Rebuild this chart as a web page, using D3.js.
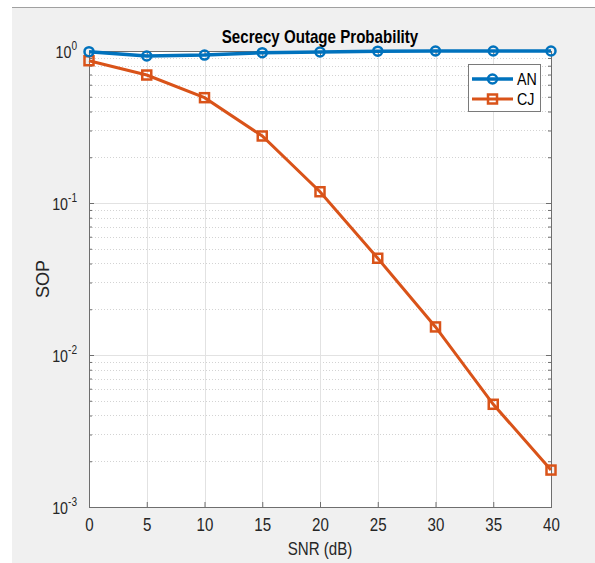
<!DOCTYPE html>
<html>
<head>
<meta charset="utf-8">
<script src="https://cdn.jsdelivr.net/npm/d3@7"></script>
<style>
  body { margin: 0; background: #fff; }
  text { font-family: "Liberation Sans", Arial, sans-serif; }
</style>
</head>
<body>
<div class="canvas"></div>
<script>
// data
const snr = [0, 5, 10, 15, 20, 25, 30, 35, 40];
const sopAN = [0.99, 0.927, 0.94, 0.975, 0.985, 0.998, 1.0, 1.0, 1.0];
const sopCJ = [0.863, 0.695, 0.493, 0.276, 0.1186, 0.0433, 0.0153, 0.00474, 0.00175];
const xTicks = [0, 5, 10, 15, 20, 25, 30, 35, 40];
const yExponents = [0, -1, -2, -3];
const seriesNames = ['AN', 'CJ'];

const width = 595, height = 563;
const narrow = 0.84; // matlab text looks condensed

const svg = d3.select('.canvas')
    .append('svg')
    .attr('width', width)
    .attr('height', height);

// put text at (x, y) squeezed horizontally
const place = (sel, px, py, rot, sx = narrow) =>
    sel.attr('transform', `translate(${px}, ${py})${rot ? ' rotate(' + rot + ')' : ''} scale(${sx}, 1)`);

// figure background
svg.append('rect')
    .attr('x', 12).attr('y', 7)
    .attr('width', width - 12).attr('height', height - 7)
    .attr('fill', '#f0f0f0');
svg.append('line')
    .attr('x1', 12).attr('x2', width)
    .attr('y1', 7.5).attr('y2', 7.5)
    .attr('stroke', '#a0a0a0');

const margin = { top: 51, left: 89, right: 44, bottom: 56 };
const graphWidth = width - margin.left - margin.right;
const graphHeight = height - margin.top - margin.bottom;

const graph = svg.append('g')
    .attr('transform', `translate(${margin.left}, ${margin.top})`);

const x = d3.scaleLinear().domain([0, 40]).range([0, graphWidth]);
const y = d3.scaleLog().domain([1e-3, 1]).range([graphHeight, 0]);

graph.append('rect')
    .attr('width', graphWidth)
    .attr('height', graphHeight)
    .attr('fill', '#fff');

// minor y grid
const minor = [];
[-3, -2, -1].forEach(e => {
    for (let m = 2; m <= 9; m++) minor.push(m * Math.pow(10, e));
});
graph.selectAll('.minor')
    .data(minor)
    .enter().append('line')
    .attr('x1', 0).attr('x2', graphWidth)
    .attr('y1', d => Math.round(y(d)) + 0.5).attr('y2', d => Math.round(y(d)) + 0.5)
    .attr('stroke', '#c8c8c8')
    .attr('stroke-width', 0.8)
    .attr('stroke-dasharray', '1,2');

// major grid
graph.selectAll('.xgrid')
    .data(xTicks)
    .enter().append('line')
    .attr('x1', d => Math.round(x(d)) + 0.5).attr('x2', d => Math.round(x(d)) + 0.5)
    .attr('y1', 0).attr('y2', graphHeight)
    .attr('stroke', '#e2e2e2');
graph.selectAll('.ygrid')
    .data(yExponents)
    .enter().append('line')
    .attr('x1', 0).attr('x2', graphWidth)
    .attr('y1', d => Math.round(y(Math.pow(10, d))) + 0.5).attr('y2', d => Math.round(y(Math.pow(10, d))) + 0.5)
    .attr('stroke', '#e2e2e2');

// axes (ticks inward, box on)
const axisColor = '#6e6e6e';
const xAxis = d3.axisBottom(x).tickValues(xTicks).tickSize(-5).tickPadding(11);
const xAxisTop = d3.axisTop(x).tickValues(xTicks).tickSize(-5).tickFormat('');
const yValues = yExponents.map(e => Math.pow(10, e));
const yAxis = d3.axisLeft(y).tickValues(yValues).tickSize(-5).tickFormat('');
const yAxisRight = d3.axisRight(y).tickValues(yValues).tickSize(-5).tickFormat('');
const yMinor = d3.axisLeft(y).tickValues(minor).tickSize(-3).tickFormat('');
const yMinorRight = d3.axisRight(y).tickValues(minor).tickSize(-3).tickFormat('');

const xg = graph.append('g').attr('transform', `translate(0, ${graphHeight})`).call(xAxis);
graph.append('g').call(xAxisTop);
graph.append('g').call(yAxis);
graph.append('g').call(yMinor);
graph.append('g').attr('transform', `translate(${graphWidth}, 0)`).call(yAxisRight);
graph.append('g').attr('transform', `translate(${graphWidth}, 0)`).call(yMinorRight);

graph.selectAll('.domain').attr('stroke', axisColor);
graph.selectAll('.tick line').attr('stroke', axisColor);
xg.selectAll('text')
    .attr('font-size', 18)
    .attr('fill', '#262626')
    .attr('font-family', '"Liberation Sans", Arial, sans-serif')
    .attr('transform', `scale(${narrow}, 1)`);

// y tick labels 10^k
const yLabels = graph.selectAll('.ylab')
    .data(yExponents)
    .enter().append('text')
    .attr('text-anchor', 'end')
    .attr('fill', '#262626')
    .attr('font-size', 17)
    .attr('transform', d => `translate(-12, ${y(Math.pow(10, d)) + 7}) scale(${narrow}, 1)`);
yLabels.append('tspan').text('10');
yLabels.append('tspan')
    .attr('dy', -8)
    .attr('font-size', 12)
    .text(d => d);

// axis labels and title
svg.append('text')
    .attr('text-anchor', 'middle')
    .attr('font-size', 18)
    .attr('fill', '#262626')
    .text('SNR (dB)')
    .call(place, margin.left + graphWidth / 2, 555);

svg.append('text')
    .attr('text-anchor', 'middle')
    .attr('font-size', 18)
    .attr('fill', '#262626')
    .text('SOP')
    .call(place, 49, margin.top + graphHeight / 2, -90, 1);

svg.append('text')
    .attr('text-anchor', 'middle')
    .attr('font-size', 18)
    .attr('font-weight', 'bold')
    .attr('fill', '#000')
    .text('Secrecy Outage Probability')
    .call(place, margin.left + graphWidth / 2, 43);

// series
const colors = ['#0072bd', '#d95319'];
const line = d3.line().x(d => x(d[0])).y(d => y(d[1]));

const anData = snr.map((s, i) => [s, sopAN[i]]);
const cjData = snr.map((s, i) => [s, sopCJ[i]]);

graph.append('path')
    .datum(cjData)
    .attr('d', line)
    .attr('fill', 'none')
    .attr('stroke', colors[1])
    .attr('stroke-width', 3);
graph.selectAll('.cj')
    .data(cjData)
    .enter().append('rect')
    .attr('x', d => x(d[0]) - 4.5)
    .attr('y', d => y(d[1]) - 4.5)
    .attr('width', 9).attr('height', 9)
    .attr('fill', 'none')
    .attr('stroke', colors[1])
    .attr('stroke-width', 2.5);

graph.append('path')
    .datum(anData)
    .attr('d', line)
    .attr('fill', 'none')
    .attr('stroke', colors[0])
    .attr('stroke-width', 3.5);
graph.selectAll('.an')
    .data(anData)
    .enter().append('circle')
    .attr('cx', d => x(d[0]))
    .attr('cy', d => y(d[1]))
    .attr('r', 4.5)
    .attr('fill', 'none')
    .attr('stroke', colors[0])
    .attr('stroke-width', 2.5);

// legend
const legend = svg.append('g').attr('transform', 'translate(468, 64)');
legend.append('rect')
    .attr('x', 0.5).attr('y', 0.5)
    .attr('width', 72).attr('height', 47)
    .attr('fill', '#fff')
    .attr('stroke', '#7a7a7a');
seriesNames.forEach((name, i) => {
    const cy = 15 + i * 20;
    legend.append('line')
        .attr('x1', 4).attr('x2', 45)
        .attr('y1', cy).attr('y2', cy)
        .attr('stroke', colors[i])
        .attr('stroke-width', i === 0 ? 3.5 : 3);
    if (i === 0) {
        legend.append('circle')
            .attr('cx', 24.5).attr('cy', cy).attr('r', 4.5)
            .attr('fill', 'none').attr('stroke', colors[i]).attr('stroke-width', 2.5);
    } else {
        legend.append('rect')
            .attr('x', 20).attr('y', cy - 4.5).attr('width', 9).attr('height', 9)
            .attr('fill', 'none').attr('stroke', colors[i]).attr('stroke-width', 2.5);
    }
    legend.append('text')
        .attr('font-size', 17)
        .attr('fill', '#000')
        .text(name)
        .call(place, 49, cy + 6);
});
</script>
</body>
</html>
